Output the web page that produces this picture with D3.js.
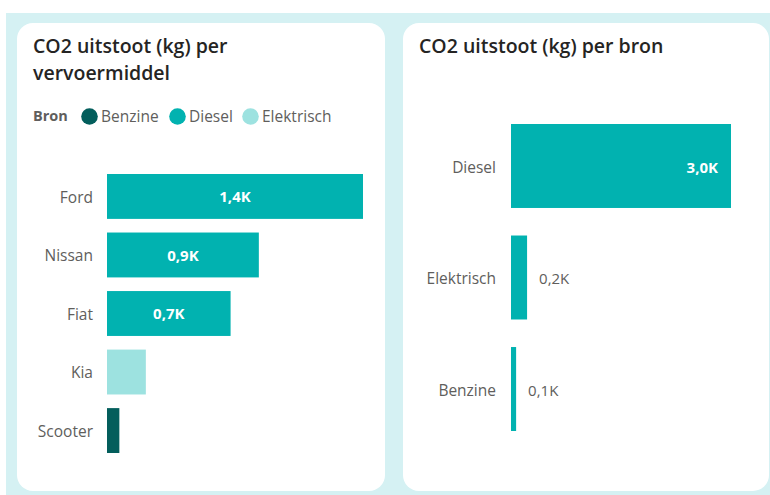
<!DOCTYPE html>
<html>
<head>
<meta charset="utf-8">
<script src="https://cdn.jsdelivr.net/npm/d3@7"></script>
<style>
  html, body { margin: 0; padding: 0; background: #ffffff; }
  svg { display: block; font-family: "Segoe UI", "Open Sans", "Noto Sans", sans-serif; }
</style>
</head>
<body>
<svg id="chart" width="770" height="495"></svg>
<script>
// ---- Data ----
const vervoermiddelen = ["Ford", "Nissan", "Fiat", "Kia", "Scooter"];
const uitstootVervoer = [1450, 860, 700, 220, 70];
const bronPerVervoer = ["Diesel", "Diesel", "Diesel", "Elektrisch", "Benzine"];

const bronnen = ["Diesel", "Elektrisch", "Benzine"];
const uitstootBron = [3010, 220, 70];

const legendBronnen = ["Benzine", "Diesel", "Elektrisch"];
const bronKleuren = ["#035E5C", "#01B2B0", "#9DE2E0"];

const titelLinks = ["CO2 uitstoot (kg) per", "vervoermiddel"];
const titelRechts = "CO2 uitstoot (kg) per bron";
const legendTitel = "Bron";

// ---- Helpers ----
const fmtK = v => (v / 1000).toFixed(1).replace(".", ",") + "K";
const kleur = d3.scaleOrdinal().domain(legendBronnen).range(bronKleuren);

const svg = d3.select("#chart");

// background
svg.append("rect").attr("x", 0).attr("y", 0).attr("width", 770).attr("height", 495).attr("fill", "#ffffff");
svg.append("rect").attr("x", 6).attr("y", 13).attr("width", 764).attr("height", 482).attr("fill", "#D5F1F3");

// cards
svg.append("rect").attr("x", 17).attr("y", 23).attr("width", 368).attr("height", 468).attr("rx", 16).attr("fill", "#ffffff");
svg.append("rect").attr("x", 403).attr("y", 23).attr("width", 366).attr("height", 468).attr("rx", 16).attr("fill", "#ffffff");

const titleColor = "#252423";
const labelColor = "#605E5C";
const catSize = 15.5;

// ---- Left chart ----
const left = svg.append("g");
left.selectAll("text.title").data(titelLinks).join("text")
  .attr("class", "title")
  .attr("x", 33).attr("y", (d, i) => 53 + i * 27)
  .attr("fill", titleColor)
  .attr("font-size", 19.5).attr("font-weight", 600)
  .text(d => d);

// legend
const legend = left.append("g");
legend.append("text").attr("x", 33).attr("y", 121)
  .attr("fill", labelColor).attr("font-size", 14.5).attr("font-weight", 700)
  .text(legendTitel);
const legendX = [89.5, 177.5, 250.5];
legendBronnen.forEach((b, i) => {
  legend.append("circle").attr("cx", legendX[i]).attr("cy", 116.5).attr("r", 8.3).attr("fill", kleur(b));
  legend.append("text").attr("x", legendX[i] + 11.5).attr("y", 121.5)
    .attr("fill", labelColor).attr("font-size", 15.5)
    .text(b);
});

const yL = d3.scaleBand().domain(vervoermiddelen).range([174, 453]).paddingInner(0.233).paddingOuter(0);
const xL = d3.scaleLinear().domain([0, d3.max(uitstootVervoer)]).range([107, 363]);

const leftData = vervoermiddelen.map((c, i) => ({ cat: c, val: uitstootVervoer[i], bron: bronPerVervoer[i] }));

left.append("g")
  .call(d3.axisLeft(yL).tickSize(0).tickPadding(0))
  .call(g => g.select(".domain").remove())
  .call(g => g.selectAll("text").attr("x", 93).attr("dy", "0.4em").attr("fill", labelColor)
    .attr("font-size", catSize).attr("text-anchor", "end"))
  .attr("font-family", null);

left.selectAll("rect.bar").data(leftData).join("rect")
  .attr("class", "bar")
  .attr("x", xL(0)).attr("y", d => yL(d.cat))
  .attr("width", d => xL(d.val) - xL(0)).attr("height", yL.bandwidth())
  .attr("fill", d => kleur(d.bron));

left.selectAll("text.val").data(leftData.filter(d => xL(d.val) - xL(0) > 60)).join("text")
  .attr("class", "val")
  .attr("x", d => (xL(d.val) + xL(0)) / 2).attr("y", d => yL(d.cat) + yL.bandwidth() / 2)
  .attr("dy", "0.38em").attr("text-anchor", "middle")
  .attr("fill", "#ffffff").attr("font-size", 15).attr("font-weight", 700)
  .text(d => fmtK(d.val));

// ---- Right chart ----
const right = svg.append("g");
right.append("text").attr("x", 419).attr("y", 53)
  .attr("fill", titleColor).attr("font-size", 19.5).attr("font-weight", 600)
  .text(titelRechts);

const yR = d3.scaleBand().domain(bronnen).range([124, 431]).paddingInner(0.247).paddingOuter(0);
const xR = d3.scaleLinear().domain([0, d3.max(uitstootBron)]).range([511, 731]);
const rightData = bronnen.map((c, i) => ({ cat: c, val: uitstootBron[i] }));

right.append("g")
  .call(d3.axisLeft(yR).tickSize(0).tickPadding(0))
  .call(g => g.select(".domain").remove())
  .call(g => g.selectAll("text").attr("x", 496).attr("dy", "0.45em").attr("fill", labelColor)
    .attr("font-size", catSize).attr("text-anchor", "end"))
  .attr("font-family", null);

right.selectAll("rect.bar").data(rightData).join("rect")
  .attr("class", "bar")
  .attr("x", xR(0)).attr("y", d => yR(d.cat))
  .attr("width", d => xR(d.val) - xR(0)).attr("height", yR.bandwidth())
  .attr("fill", kleur("Diesel"));

right.selectAll("text.val").data(rightData).join("text")
  .attr("class", "val")
  .each(function (d) {
    const inside = xR(d.val) - xR(0) > 60;
    d3.select(this)
      .attr("x", inside ? xR(d.val) - 13 : xR(d.val) + 12)
      .attr("text-anchor", inside ? "end" : "start")
      .attr("fill", inside ? "#ffffff" : labelColor)
      .attr("font-weight", inside ? 700 : 400);
  })
  .attr("y", d => yR(d.cat) + yR.bandwidth() / 2)
  .attr("dy", "0.45em")
  .attr("font-size", 15)
  .text(d => fmtK(d.val));
</script>
</body>
</html>
